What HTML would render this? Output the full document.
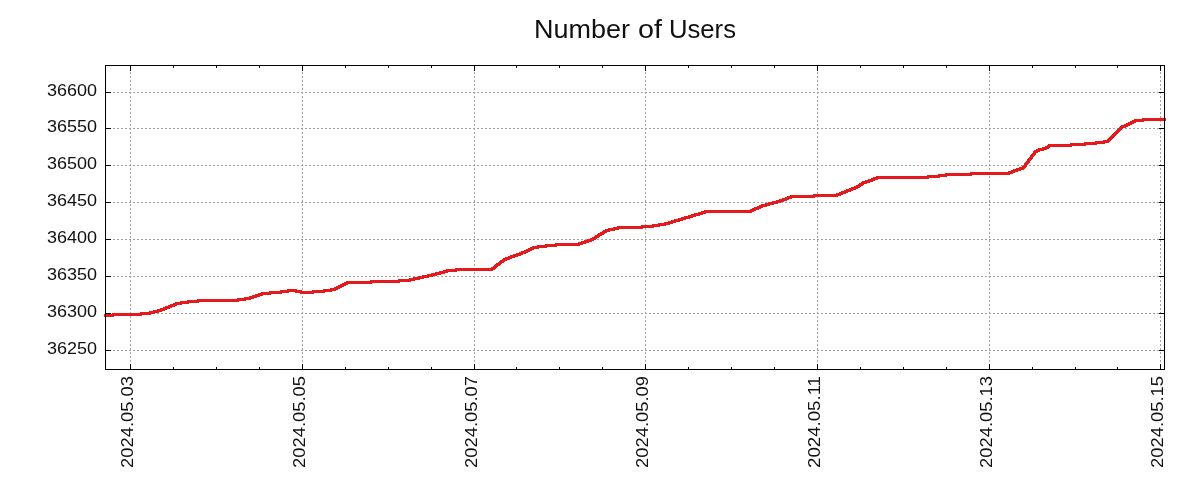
<!DOCTYPE html>
<html><head><meta charset="utf-8"><title>Number of Users</title>
<style>
html,body{margin:0;padding:0;background:#fff;}
body{width:1200px;height:500px;position:relative;overflow:hidden;font-family:"Liberation Sans",sans-serif;color:#111;}
svg{position:absolute;left:0;top:0;will-change:transform;}
</style></head><body>
<svg width="1200" height="500" viewBox="0 0 1200 500">
<path d="M105,92.5H1165M105,128.5H1165M105,165.5H1165M105,202.5H1165M105,239.5H1165M105,276.5H1165M105,313.5H1165M105,350.5H1165M130.5,370V65M302.5,370V65M474.5,370V65M645.5,370V65M817.5,370V65M989.5,370V65M1160.5,370V65" stroke="#a0a0a0" stroke-width="1" stroke-dasharray="2 2" fill="none" shape-rendering="crispEdges"/>
<path d="M1142,118h24v1h-24zM1134,119h32v1h-32zM1132,120h34v1h-34zM1130,121h14v1h-14zM1128,122h8v1h-8zM1126,123h8v1h-8zM1124,124h8v1h-8zM1121,125h9v1h-9zM1120,126h8v1h-8zM1119,127h7v1h-7zM1118,128h5v1h-5zM1117,129h5v1h-5zM1116,130h5v1h-5zM1115,131h5v1h-5zM1114,132h5v1h-5zM1113,133h5v1h-5zM1112,134h5v1h-5zM1111,135h5v1h-5zM1110,136h5v1h-5zM1109,137h5v1h-5zM1108,138h5v1h-5zM1107,139h5v1h-5zM1103,140h8v1h-8zM1095,141h15v1h-15zM1084,142h25v1h-25zM1070,143h35v1h-35zM1048,144h49v1h-49zM1047,145h39v1h-39zM1045,146h27v1h-27zM1042,147h8v1h-8zM1038,148h11v1h-11zM1036,149h11v1h-11zM1034,150h10v1h-10zM1033,151h7v1h-7zM1033,152h5v1h-5zM1032,153h4v1h-4zM1031,154h5v1h-5zM1030,155h5v1h-5zM1030,156h4v1h-4zM1029,157h4v1h-4zM1028,158h5v1h-5zM1027,159h5v1h-5zM1027,160h4v1h-4zM1026,161h4v1h-4zM1025,162h5v1h-5zM1024,163h5v1h-5zM1024,164h4v1h-4zM1023,165h4v1h-4zM1022,166h5v1h-5zM1019,167h7v1h-7zM1016,168h9v1h-9zM1013,169h11v1h-11zM1011,170h10v1h-10zM1008,171h10v1h-10zM970,172h45v1h-45zM945,173h68v1h-68zM938,174h72v1h-72zM927,175h45v1h-45zM876,176h71v1h-71zM873,177h67v1h-67zM871,178h58v1h-58zM868,179h10v1h-10zM865,180h10v1h-10zM862,181h11v1h-11zM861,182h9v1h-9zM859,183h8v1h-8zM858,184h6v1h-6zM856,185h7v1h-7zM854,186h7v1h-7zM851,187h9v1h-9zM849,188h9v1h-9zM846,189h10v1h-10zM844,190h9v1h-9zM841,191h10v1h-10zM839,192h9v1h-9zM836,193h10v1h-10zM813,194h30v1h-30zM790,195h51v1h-51zM787,196h51v1h-51zM785,197h30v1h-30zM782,198h10v1h-10zM779,199h10v1h-10zM776,200h11v1h-11zM772,201h12v1h-12zM768,202h13v1h-13zM765,203h13v1h-13zM761,204h13v1h-13zM759,205h11v1h-11zM757,206h10v1h-10zM754,207h9v1h-9zM752,208h9v1h-9zM750,209h9v1h-9zM704,210h52v1h-52zM701,211h53v1h-53zM698,212h54v1h-54zM694,213h12v1h-12zM691,214h12v1h-12zM688,215h12v1h-12zM684,216h12v1h-12zM681,217h12v1h-12zM678,218h12v1h-12zM674,219h12v1h-12zM671,220h12v1h-12zM668,221h12v1h-12zM664,222h12v1h-12zM658,223h15v1h-15zM652,224h18v1h-18zM641,225h25v1h-25zM617,226h43v1h-43zM613,227h41v1h-41zM608,228h35v1h-35zM605,229h14v1h-14zM603,230h12v1h-12zM602,231h8v1h-8zM600,232h7v1h-7zM598,233h7v1h-7zM597,234h7v1h-7zM595,235h7v1h-7zM594,236h6v1h-6zM592,237h7v1h-7zM590,238h7v1h-7zM587,239h9v1h-9zM584,240h10v1h-10zM581,241h11v1h-11zM578,242h11v1h-11zM555,243h31v1h-31zM545,244h38v1h-38zM537,245h43v1h-43zM532,246h25v1h-25zM530,247h17v1h-17zM528,248h11v1h-11zM526,249h8v1h-8zM524,250h8v1h-8zM521,251h9v1h-9zM519,252h9v1h-9zM516,253h10v1h-10zM513,254h10v1h-10zM510,255h11v1h-11zM508,256h10v1h-10zM505,257h10v1h-10zM503,258h9v1h-9zM502,259h8v1h-8zM500,260h7v1h-7zM499,261h6v1h-6zM498,262h6v1h-6zM496,263h6v1h-6zM495,264h6v1h-6zM494,265h6v1h-6zM493,266h5v1h-5zM491,267h6v1h-6zM455,268h41v1h-41zM446,269h49v1h-49zM443,270h50v1h-50zM439,271h18v1h-18zM435,272h13v1h-13zM431,273h14v1h-14zM427,274h14v1h-14zM422,275h15v1h-15zM418,276h15v1h-15zM413,277h16v1h-16zM409,278h15v1h-15zM398,279h22v1h-22zM370,280h45v1h-45zM346,281h65v1h-65zM344,282h56v1h-56zM342,283h30v1h-30zM340,284h8v1h-8zM338,285h8v1h-8zM336,286h8v1h-8zM334,287h8v1h-8zM330,288h10v1h-10zM287,289h10v1h-10zM323,289h15v1h-15zM280,290h22v1h-22zM312,290h24v1h-24zM269,291h63v1h-63zM261,292h28v1h-28zM295,292h30v1h-30zM258,293h24v1h-24zM300,293h14v1h-14zM255,294h16v1h-16zM252,295h11v1h-11zM249,296h11v1h-11zM244,297h13v1h-13zM237,298h17v1h-17zM197,299h54v1h-54zM187,300h59v1h-59zM180,301h59v1h-59zM175,302h24v1h-24zM173,303h16v1h-16zM170,304h12v1h-12zM168,305h9v1h-9zM165,306h10v1h-10zM163,307h9v1h-9zM160,308h10v1h-10zM157,309h10v1h-10zM153,310h12v1h-12zM149,311h13v1h-13zM140,312h19v1h-19zM112,313h43v1h-43zM104,314h47v1h-47zM104,315h38v1h-38zM104,316h10v1h-10z" fill="#e41a1c" shape-rendering="crispEdges"/>
<path d="M105.5,65.5H1164.5V369.5H105.5ZM130.5,369V364M130.5,66V71M302.5,369V364M302.5,66V71M474.5,369V364M474.5,66V71M645.5,369V364M645.5,66V71M817.5,369V364M817.5,66V71M989.5,369V364M989.5,66V71M1160.5,369V364M1160.5,66V71M173.5,369V367M173.5,66V68M216.5,369V367M216.5,66V68M259.5,369V367M259.5,66V68M345.5,369V367M345.5,66V68M388.5,369V367M388.5,66V68M431.5,369V367M431.5,66V68M516.5,369V367M516.5,66V68M559.5,369V367M559.5,66V68M602.5,369V367M602.5,66V68M688.5,369V367M688.5,66V68M731.5,369V367M731.5,66V68M774.5,369V367M774.5,66V68M860.5,369V367M860.5,66V68M903.5,369V367M903.5,66V68M946.5,369V367M946.5,66V68M1032.5,369V367M1032.5,66V68M1075.5,369V367M1075.5,66V68M1117.5,369V367M1117.5,66V68M106,92.5H111M1164,92.5H1159M106,128.5H111M1164,128.5H1159M106,165.5H111M1164,165.5H1159M106,202.5H111M1164,202.5H1159M106,239.5H111M1164,239.5H1159M106,276.5H111M1164,276.5H1159M106,313.5H111M1164,313.5H1159M106,350.5H111M1164,350.5H1159" stroke="#000" stroke-width="1" fill="none" shape-rendering="crispEdges"/>
<g font-size="25" fill="#111"><text x="534" y="38" textLength="96" lengthAdjust="spacingAndGlyphs">Number</text><text x="638" y="38" textLength="24" lengthAdjust="spacingAndGlyphs">of</text><text x="669" y="38" textLength="67" lengthAdjust="spacingAndGlyphs">Users</text></g>
<g font-size="16" fill="#111"><text x="97" y="96" text-anchor="end" textLength="50" lengthAdjust="spacingAndGlyphs">36600</text><text x="97" y="132" text-anchor="end" textLength="50" lengthAdjust="spacingAndGlyphs">36550</text><text x="97" y="169" text-anchor="end" textLength="50" lengthAdjust="spacingAndGlyphs">36500</text><text x="97" y="206" text-anchor="end" textLength="50" lengthAdjust="spacingAndGlyphs">36450</text><text x="97" y="243" text-anchor="end" textLength="50" lengthAdjust="spacingAndGlyphs">36400</text><text x="97" y="280" text-anchor="end" textLength="50" lengthAdjust="spacingAndGlyphs">36350</text><text x="97" y="317" text-anchor="end" textLength="50" lengthAdjust="spacingAndGlyphs">36300</text><text x="97" y="354" text-anchor="end" textLength="50" lengthAdjust="spacingAndGlyphs">36250</text><text transform="translate(133,376) rotate(-90)" text-anchor="end" textLength="92" lengthAdjust="spacingAndGlyphs">2024.05.03</text><text transform="translate(305,376) rotate(-90)" text-anchor="end" textLength="92" lengthAdjust="spacingAndGlyphs">2024.05.05</text><text transform="translate(477,376) rotate(-90)" text-anchor="end" textLength="92" lengthAdjust="spacingAndGlyphs">2024.05.07</text><text transform="translate(648,376) rotate(-90)" text-anchor="end" textLength="92" lengthAdjust="spacingAndGlyphs">2024.05.09</text><text transform="translate(820,376) rotate(-90)" text-anchor="end" textLength="92" lengthAdjust="spacingAndGlyphs">2024.05.11</text><text transform="translate(992,376) rotate(-90)" text-anchor="end" textLength="92" lengthAdjust="spacingAndGlyphs">2024.05.13</text><text transform="translate(1163,376) rotate(-90)" text-anchor="end" textLength="92" lengthAdjust="spacingAndGlyphs">2024.05.15</text></g>
</svg>
</body></html>
